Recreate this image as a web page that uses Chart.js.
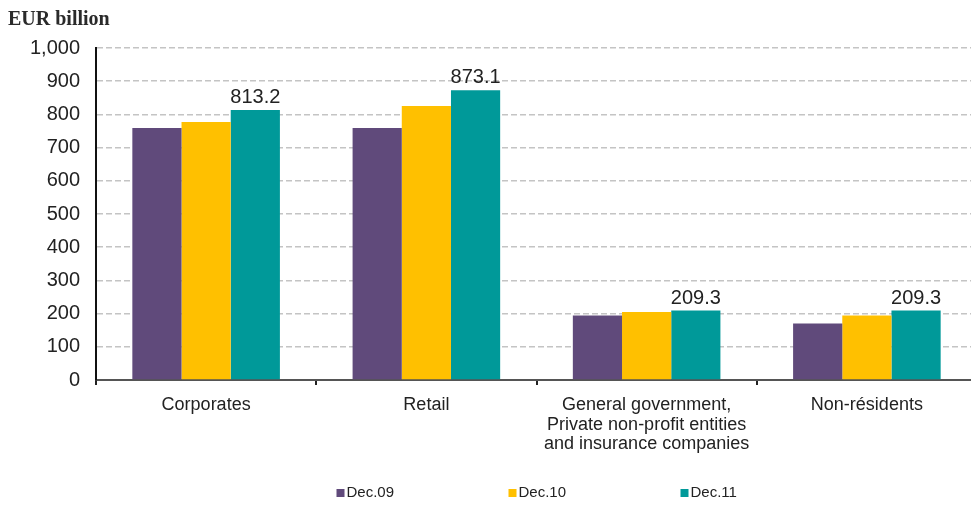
<!DOCTYPE html>
<html lang="en">
<head>
<meta charset="UTF-8">
<title>Loans by sector</title>
<script src="https://cdn.jsdelivr.net/npm/chart.js"></script>
<style>
  html, body { margin: 0; padding: 0; background: #fff; overflow: hidden; }
  .chart-box { width: 978px; height: 505px; }
</style>
</head>
<body>
<div class="chart-box"><canvas id="loansChart"></canvas></div>
<script>
// sectors and year-end stocks, EUR billion
const categories = ['Corporates', 'Retail', ['General government,', 'Private non-profit entities', 'and insurance companies'], 'Non-résidents'];
const seriesNames = ['Dec.09', 'Dec.10', 'Dec.11'];
const dec09 = [759, 759, 194, 170];
const dec10 = [777, 825, 205, 194];
const dec11 = [813.2, 873.1, 209.3, 209.3];
const seriesColors = ['#604A7B', '#FFC000', '#009999'];
const yMin = 0;
const yMax = 1000;
const yStep = 100;
const unitText = 'EUR billion';

const sansFont = "'Liberation Sans', Arial, sans-serif";
const textColor = '#222';

// "EUR billion" above the value axis
const unitLabel = {
    id: 'unitLabel',
    afterDraw(chart) {
        const ctx = chart.ctx;
        ctx.save();
        ctx.font = "bold 20px 'Liberation Serif', 'Times New Roman', serif";
        ctx.fillStyle = '#2a2a2a';
        ctx.textAlign = 'left';
        ctx.textBaseline = 'alphabetic';
        ctx.fillText(unitText, 8, 25);
        ctx.restore();
    }
};

// value on top of the last series only
const valueLabels = {
    id: 'valueLabels',
    afterDatasetsDraw(chart) {
        const ctx = chart.ctx;
        const meta = chart.getDatasetMeta(2);
        ctx.save();
        ctx.font = '20px ' + sansFont;
        ctx.fillStyle = textColor;
        ctx.textAlign = 'center';
        ctx.textBaseline = 'alphabetic';
        meta.data.forEach((bar, i) => {
            ctx.fillText(dec11[i].toFixed(1), bar.x, bar.y - 7);
        });
        ctx.restore();
    }
};

// legend row under the axis, spread wide
const wideLegend = {
    id: 'wideLegend',
    afterDraw(chart) {
        const ctx = chart.ctx;
        const area = chart.chartArea;
        const mid = (area.left + area.right) / 2;
        const y = chart.height - 12;
        ctx.save();
        ctx.font = '15px ' + sansFont;
        ctx.textBaseline = 'middle';
        ctx.textAlign = 'left';
        seriesNames.forEach((name, i) => {
            const x = mid - 28 + (i - 1) * 172;
            ctx.fillStyle = seriesColors[i];
            ctx.fillRect(x, y - 4, 8, 8);
            ctx.fillStyle = textColor;
            ctx.fillText(name, x + 10, y);
        });
        ctx.restore();
    }
};

new Chart(document.getElementById('loansChart'), {
    type: 'bar',
    data: {
        labels: categories,
        datasets: [dec09, dec10, dec11].map((values, i) => ({
            label: seriesNames[i],
            data: values,
            backgroundColor: seriesColors[i],
            borderWidth: 0,
            categoryPercentage: 0.67,
            barPercentage: 1.0
        }))
    },
    options: {
        responsive: true,
        maintainAspectRatio: false,
        animation: false,
        layout: { padding: { left: 0, top: 48, right: 1, bottom: 40 } },
        plugins: {
            legend: { display: false },
            tooltip: { enabled: false }
        },
        scales: {
            x: {
                afterFit(scale) { scale.height = 85; },
                grid: { drawOnChartArea: false, drawTicks: true, tickLength: 5, color: '#222', lineWidth: 2 },
                border: { color: '#555', width: 2 },
                ticks: {
                    font: { family: sansFont, size: 18, lineHeight: 1.1 },
                    color: textColor,
                    padding: 10,
                    maxRotation: 0,
                    autoSkip: false
                }
            },
            y: {
                min: yMin,
                max: yMax,
                afterFit(scale) { scale.width = 96; },
                grid: { color: '#c4c4c4', lineWidth: 1.5, drawTicks: false },
                border: { color: '#111', width: 2, dash: [6, 3] },
                ticks: {
                    stepSize: yStep,
                    padding: 16,
                    font: { family: sansFont, size: 20 },
                    color: textColor,
                    callback: v => v.toLocaleString('en-US')
                }
            }
        }
    },
    plugins: [unitLabel, valueLabels, wideLegend]
});
</script>
</body>
</html>
